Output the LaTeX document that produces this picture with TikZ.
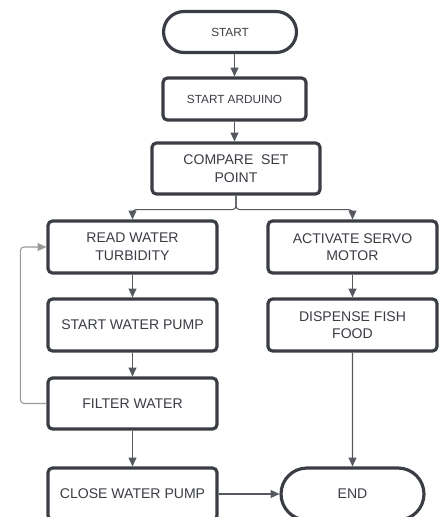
\documentclass[tikz,border=0pt]{standalone}
\usepackage{fontspec}
\setmainfont{Liberation Sans}
\usetikzlibrary{arrows.meta,shapes.misc}
\definecolor{boxline}{HTML}{3A3D44}
\definecolor{flowline}{HTML}{55585E}
\definecolor{loopline}{HTML}{9A9A9A}

\begin{document}
\begin{tikzpicture}[x=.02cm,y=-.02cm,
    stepbox/.style={draw=boxline,line width=1.8pt,rounded corners=2.5pt,fill=white,
      text=boxline,align=center,font=\fontsize{8}{10}\selectfont,
      minimum width=3.38cm,minimum height=1.04cm,inner sep=0pt},
    termbox/.style={stepbox,rounded rectangle,sharp corners},
    flow/.style={draw=flowline,line width=.6pt,-{Triangle[length=5pt,width=4.5pt]}}]
  \useasboundingbox (0,0) rectangle (443,517);
  \clip (0,0) rectangle (443,517);
  % main column
  \node[termbox,minimum width=2.66cm,minimum height=.82cm,font=\fontsize{6.7}{8}\selectfont] (start) at (230,32) {START};
  \node[stepbox,minimum width=2.86cm,minimum height=.84cm,font=\fontsize{6.7}{8}\selectfont] (ard) at (234.5,99) {START ARDUINO};
  \node[stepbox,minimum width=3.36cm,minimum height=1.02cm] (comp) at (236,168.5) {COMPARE\ \ SET\\POINT};
  \node[stepbox] (read) at (132.5,247) {READ WATER\\TURBIDITY};
  \node[stepbox] (pump) at (132.5,325) {START WATER PUMP};
  \node[stepbox,minimum height=1.02cm] (filter) at (132.5,403.5) {FILTER WATER};
  \node[stepbox] (close) at (132.5,494) {CLOSE WATER PUMP};
  % servo column
  \node[stepbox] (servo) at (352.5,247) {ACTIVATE SERVO\\MOTOR};
  \node[stepbox] (food) at (352.5,325) {DISPENSE FISH\\FOOD};
  \node[termbox,minimum width=2.86cm] (end) at (352.5,494) {END};

  \draw[flow] (start.south -| ard) -- (ard);
  \draw[flow] (ard) -- (ard |- comp.north);
  \draw[flow,rounded corners=2pt] (comp.south) -- ++(0,14) -| (read.north);
  \draw[flow,rounded corners=2pt] (comp.south) -- ++(0,14) -| (servo.north);
  \draw[flow] (read) -- (pump);
  \draw[flow] (pump) -- (filter);
  \draw[flow] (filter) -- (close);
  \draw[flow,draw=loopline,rounded corners=2pt] (filter.west) -- ++(-26,0) |- (read.west);
  \draw[flow] (servo) -- (food);
  \draw[flow] (food) -- (end);
  \draw[flow] (close) -- (end);
\end{tikzpicture}
\end{document}
